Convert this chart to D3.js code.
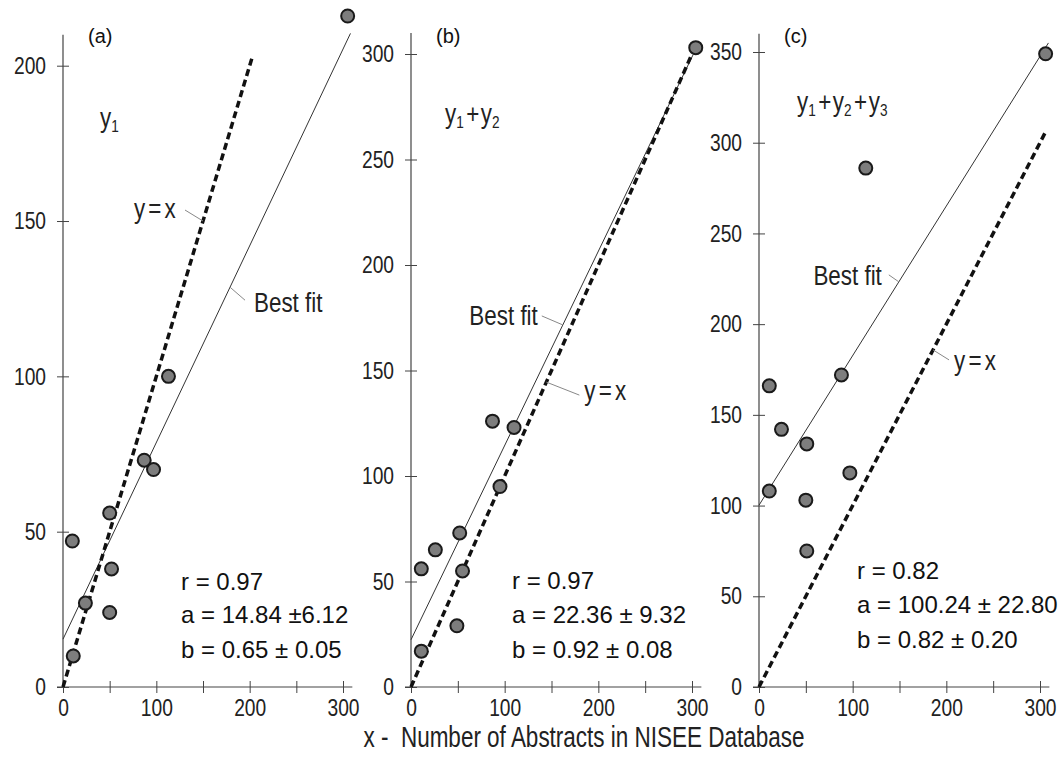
<!DOCTYPE html>
<html>
<head>
<meta charset="utf-8">
<script src="https://cdn.jsdelivr.net/npm/d3@7"></script>
<style>
  body { margin: 0; background: #fff; }
  svg { display: block; }
</style>
</head>
<body>
<svg id="chart" width="1061" height="757"></svg>
<script>
// values
const xTicks = [0, 50, 100, 150, 200, 250, 300];
const panelLabels = ["(a)", "(b)", "(c)"];
const seriesParts = [["1"], ["1", "2"], ["1", "2", "3"]];

const xA = [305, 113, 87, 97, 50, 10, 52, 24, 50, 11];
const yA = [216, 100, 73, 70, 56, 47, 38, 27, 24, 10];
const xB = [304, 87, 110, 95, 52, 26, 11, 55, 49, 11];
const yB = [303, 126, 123, 95, 73, 65, 56, 55, 29, 17];
const xC = [306, 114, 88, 11, 24, 51, 97, 11, 50, 51];
const yC = [349, 286, 172, 166, 142, 134, 118, 108, 103, 75];

// best fit lines as drawn (start, end)
const fitA = [[0, 15.4], [308, 210.4]];
const fitB = [[0, 22.4], [301, 299.5]];
const fitC = [[0, 100.2], [309, 355]];
// y = x lines
const idA = [[0, 0], [203, 203]];
const idB = [[0, 0], [302, 302]];
const idC = [[0, 0], [307, 307]];

const statsA = ["r = 0.97", "a = 14.84 \u00b16.12", "b = 0.65 \u00b1 0.05"];
const statsB = ["r = 0.97", "a = 22.36 \u00b1 9.32", "b = 0.92 \u00b1 0.08"];
const statsC = ["r = 0.82", "a = 100.24 \u00b1  22.80", "b = 0.82 \u00b1 0.20"];

const yMax = [200, 300, 350];
const yTop = [210, 310, 360];

const xTitle = "x -  Number of Abstracts in NISEE Database";

// layout
const font = '"Liberation Sans", Arial, sans-serif';
const squeeze = 0.8;   // fake a condensed face
const baseY = 687;

const panels = [
  { x0: 63, x300: 343, yTopPx: 65.7, xs: xA, ys: yA, fit: fitA, id: idA, stats: statsA,
    statX: 181, statY: [590, 623, 658],
    notes: [
      { line: "fit", y: 128.7, dx: 15, dy: 13, tx: 24, ty: 25, anchor: "start", text: "Best fit" },
      { line: "id", y: 150, dx: -18, dy: -11, tx: -24, ty: -3, anchor: "end", text: "y=x" }
    ],
    nameX: 100, nameY: 127 },
  { x0: 411, x300: 692, yTopPx: 54, xs: xB, ys: yB, fit: fitB, id: idB, stats: statsB,
    statX: 512, statY: [589, 623, 658],
    notes: [
      { line: "fit", y: 171.6, dx: -21, dy: -9, tx: -25, ty: 0, anchor: "end", text: "Best fit" },
      { line: "id", y: 144.5, dx: 33, dy: 13, tx: 38, ty: 18, anchor: "start", text: "y=x" }
    ],
    nameX: 445, nameY: 123 },
  { x0: 759, x300: 1040, yTopPx: 52, xs: xC, ys: yC, fit: fitC, id: idC, stats: statsC,
    statX: 857, statY: [579, 613, 648],
    notes: [
      { line: "fit", y: 223.3, dx: -10, dy: -7, tx: -17, ty: 3, anchor: "end", text: "Best fit" },
      { line: "id", y: 185.8, dx: 16, dy: 10, tx: 21, ty: 20, anchor: "start", text: "y=x" }
    ],
    nameX: 797, nameY: 111 }
];

const svg = d3.select("#chart");

function narrowText(parent, x, y, size, k = squeeze) {
  return parent.append("text")
    .attr("transform", `translate(${x},${y}) scale(${k},1)`)
    .attr("font-family", font).attr("font-size", size).attr("fill", "#222");
}

panels.forEach((p, i) => {
  const x = d3.scaleLinear().domain([0, 300]).range([p.x0, p.x300]);
  const y = d3.scaleLinear().domain([0, yMax[i]]).range([baseY, p.yTopPx]);
  const g = svg.append("g");

  // x axis
  const xAxis = g.append("g")
    .attr("transform", `translate(0,${baseY})`)
    .call(d3.axisBottom(x).tickValues(xTicks).tickSize(6).tickPadding(6)
      .tickFormat(d => d % 100 === 0 ? d : ""));
  xAxis.select(".domain").remove();
  xAxis.selectAll(".tick line").attr("y1", -6).attr("y2", 6).attr("stroke", "#444");
  xAxis.selectAll(".tick text")
    .attr("transform", `scale(${squeeze},1)`)
    .attr("font-family", font).attr("font-size", 24).attr("fill", "#222");
  g.append("line")
    .attr("x1", x(0) - 6).attr("x2", x(310))
    .attr("y1", baseY).attr("y2", baseY)
    .attr("stroke", "#444").attr("stroke-width", 1.2);

  // y axis
  const yAxis = g.append("g")
    .attr("transform", `translate(${x(0)},0)`)
    .call(d3.axisLeft(y).ticks(yMax[i] / 50).tickSize(6).tickPadding(12));
  yAxis.select(".domain").remove();
  yAxis.selectAll(".tick line").attr("x1", -6).attr("x2", 6).attr("stroke", "#444");
  yAxis.selectAll(".tick text")
    .attr("x", 0)
    .attr("transform", `translate(-17,0) scale(${squeeze},1)`)
    .attr("font-family", font).attr("font-size", 24).attr("fill", "#222");
  g.append("line")
    .attr("x1", x(0)).attr("x2", x(0))
    .attr("y1", baseY).attr("y2", y(yTop[i]))
    .attr("stroke", "#444").attr("stroke-width", 1.2);

  const line = d3.line().x(d => x(d[0])).y(d => y(d[1]));

  // best fit
  g.append("path").attr("d", line(p.fit))
    .attr("fill", "none").attr("stroke", "#333").attr("stroke-width", 1);
  // y = x
  g.append("path").attr("d", line(p.id))
    .attr("fill", "none").attr("stroke", "#111").attr("stroke-width", 3.5)
    .attr("stroke-dasharray", "7,4");

  // points
  g.selectAll("circle").data(p.xs.map((v, k) => [v, p.ys[k]]))
    .join("circle")
    .attr("cx", d => x(d[0])).attr("cy", d => y(d[1]))
    .attr("r", 6.5)
    .attr("fill", "#7d7d7d").attr("stroke", "#1a1a1a").attr("stroke-width", 2);

  // annotations with leader lines
  p.notes.forEach(n => {
    const seg = n.line === "fit" ? p.fit : p.id;
    const t = (n.y - seg[0][1]) / (seg[1][1] - seg[0][1]);
    const lx = x(seg[0][0] + t * (seg[1][0] - seg[0][0]));
    const ly = y(n.y);
    g.append("line")
      .attr("x1", lx).attr("y1", ly)
      .attr("x2", lx + n.dx).attr("y2", ly + n.dy)
      .attr("stroke", "#888").attr("stroke-width", 1);
    narrowText(g, lx + n.tx, ly + n.ty, 28)
      .attr("text-anchor", n.anchor)
      .attr("letter-spacing", n.text === "y=x" ? 4 : 0)
      .text(n.text);
  });

  // stats
  g.selectAll("text.stat").data(p.stats).join("text")
    .attr("class", "stat")
    .attr("x", p.statX).attr("y", (d, k) => p.statY[k])
    .attr("font-family", font).attr("font-size", 24).attr("fill", "#111")
    .text(d => d);

  // panel label
  g.append("text").attr("x", x(0) + 25).attr("y", 43)
    .attr("font-family", font).attr("font-size", 20).attr("fill", "#111")
    .text(panelLabels[i]);

  // series name y1 + y2 ...
  const nm = narrowText(g, p.nameX, p.nameY, 28);
  seriesParts[i].forEach((s, k) => {
    if (k > 0) nm.append("tspan").attr("dy", -5).attr("dx", 3).text("+");
    nm.append("tspan").attr("dx", k > 0 ? 2 : 0).text("y");
    nm.append("tspan").attr("font-size", 17).attr("dy", 5).text(s);
  });
});

// x title
narrowText(svg, 584, 747, 30, 0.75)
  .attr("text-anchor", "middle")
  .style("white-space", "pre")
  .text(xTitle);
</script>
</body>
</html>
